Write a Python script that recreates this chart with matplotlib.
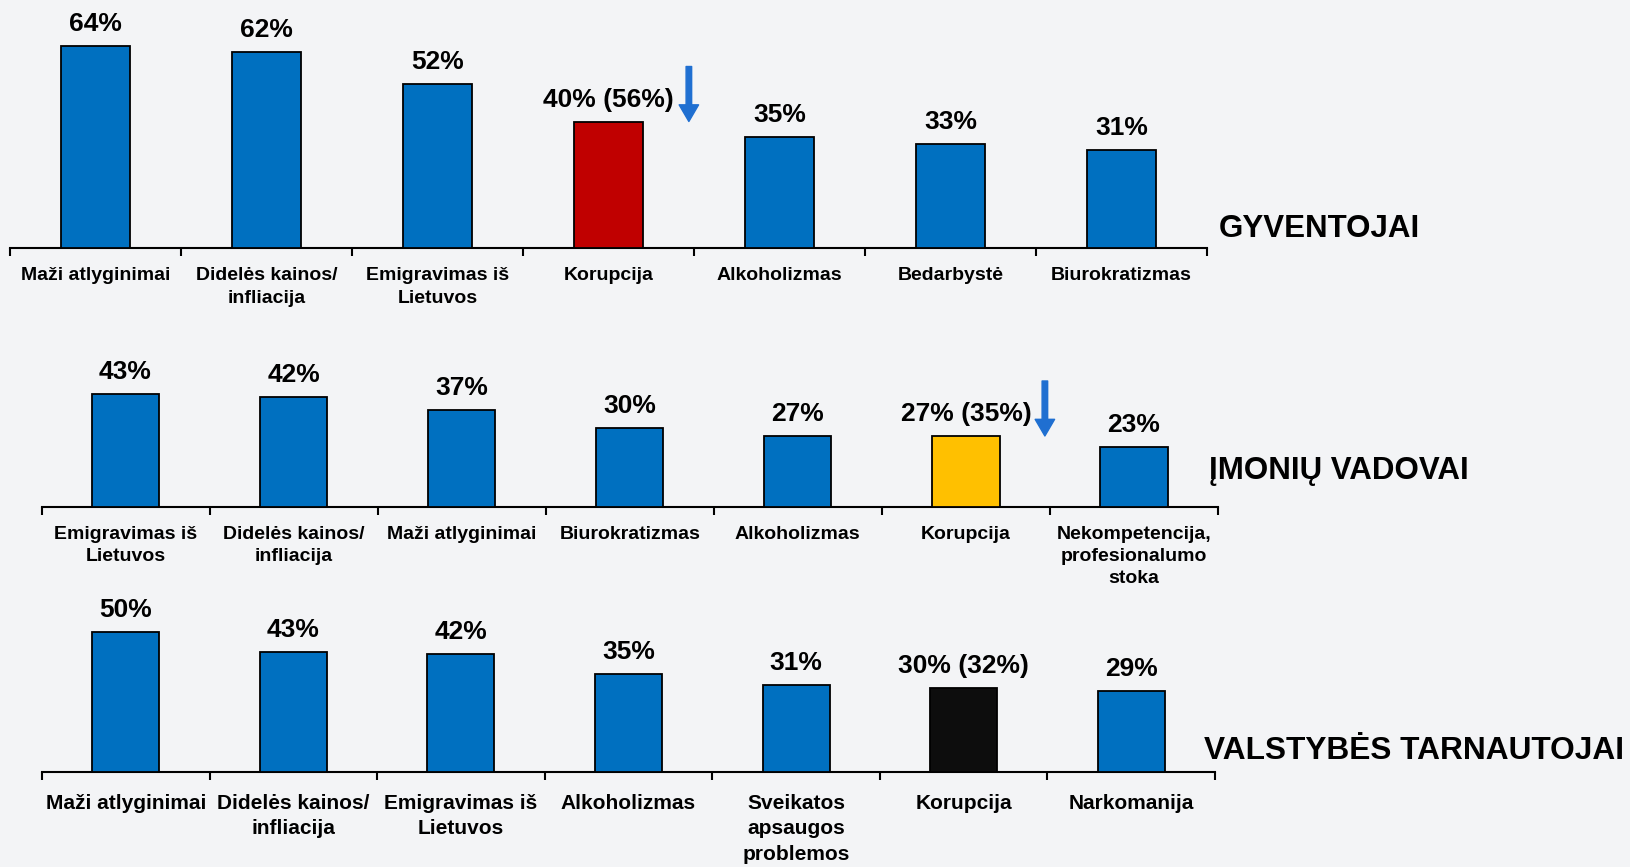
import matplotlib
matplotlib.use('Agg')
import matplotlib.pyplot as plt
from matplotlib import font_manager

names = {f.name for f in font_manager.fontManager.ttflist}
REG = 'Liberation Sans' if 'Liberation Sans' in names else 'DejaVu Sans'
plt.rcParams['font.family'] = [REG, 'DejaVu Sans']
plt.rcParams['font.weight'] = 'bold'

# --- data -------------------------------------------------------------
gyv_labels = ['Maži atlyginimai', 'Didelės kainos/\ninfliacija', 'Emigravimas iš\nLietuvos',
              'Korupcija', 'Alkoholizmas', 'Bedarbystė', 'Biurokratizmas']
gyv_values = [64, 62, 52, 40, 35, 33, 31]
gyv_prev = [None, None, None, 56, None, None, None]

vad_labels = ['Emigravimas iš\nLietuvos', 'Didelės kainos/\ninfliacija', 'Maži atlyginimai',
              'Biurokratizmas', 'Alkoholizmas', 'Korupcija',
              'Nekompetencija,\nprofesionalumo\nstoka']
vad_values = [43, 42, 37, 30, 27, 27, 23]
vad_prev = [None, None, None, None, None, 35, None]

vt_labels = ['Maži atlyginimai', 'Didelės kainos/\ninfliacija', 'Emigravimas iš\nLietuvos',
             'Alkoholizmas', 'Sveikatos\napsaugos\nproblemos', 'Korupcija', 'Narkomanija']
vt_values = [50, 43, 42, 35, 31, 30, 29]
vt_prev = [None, None, None, None, None, 32, None]

titles = ['GYVENTOJAI', 'ĮMONIŲ VADOVAI', 'VALSTYBĖS TARNAUTOJAI']

W, H = 1630, 867
BG = '#f3f4f6'
BLUE = '#0070c0'
ARROW = '#1f6fd1'

fig = plt.figure(figsize=(W / 100, H / 100), dpi=100, facecolor=BG)

# panel layout in pixels: left, right, axis y, px per %, ymax
panels = [
    dict(labels=gyv_labels, values=gyv_values, prev=gyv_prev, hi='#c00000',
         box=(10, 1207, 247.5, 3.15, 70), lab=14, val=19, pad=14, ls=1.45, arrow=True,
         title=(1219, 229, 22.5)),
    dict(labels=vad_labels, values=vad_values, prev=vad_prev, hi='#ffc000',
         box=(41.5, 1218, 507, 2.63, 50), lab=14, val=19, pad=14, ls=1.35, arrow=True,
         title=(1209, 471, 22.5)),
    dict(labels=vt_labels, values=vt_values, prev=vt_prev, hi='#0d0d0d',
         box=(42, 1215, 771.5, 2.79, 55), lab=15, val=19, pad=16, ls=1.45, arrow=False,
         title=(1204, 751, 22.8)),
]

for p, title in zip(panels, titles):
    x0, x1, ay, scale, ymax = p['box']
    ax = fig.add_axes([x0 / W, 1 - ay / H, (x1 - x0) / W, ymax * scale / H])
    ax.set_facecolor('none')
    n = len(p['values'])
    xs = list(range(n))
    colors = [p['hi'] if lab == 'Korupcija' else BLUE for lab in p['labels']]
    ax.bar(xs, p['values'], width=0.4, color=colors, edgecolor='black', linewidth=1.3, zorder=3)
    ax.set_xlim(-0.5, n - 0.5)
    ax.set_ylim(0, ymax)
    for s in ['top', 'left', 'right']:
        ax.spines[s].set_visible(False)
    ax.spines['bottom'].set_linewidth(1.5)
    ax.set_yticks([])
    ax.set_xticks(xs)
    ax.set_xticklabels(p['labels'], fontsize=p['lab'], fontweight='bold', linespacing=p['ls'])
    ax.tick_params(axis='x', which='major', length=0, pad=p['pad'])
    ax.set_xticks([i - 0.5 for i in range(n + 1)], minor=True)
    ax.tick_params(axis='x', which='minor', length=6, width=1.5, direction='out')

    for i, (v, pr) in enumerate(zip(p['values'], p['prev'])):
        txt = f'{v}%' if pr is None else f'{v}% ({pr}%)'
        ax.annotate(txt, (i, v), xytext=(0, 15), textcoords='offset pixels',
                    ha='center', va='baseline', fontsize=p['val'], fontweight='bold',
                    annotation_clip=False)
        if pr is not None and p['arrow']:
            ax.annotate('', xy=(i + 0.47, v), xytext=(0, 55), textcoords='offset pixels',
                        arrowprops=dict(arrowstyle='simple,head_length=0.6,head_width=0.7,tail_width=0.2',
                                        color=ARROW, mutation_scale=20, shrinkA=0, shrinkB=0),
                        annotation_clip=False)

    tx, ty, tsize = p['title']
    fig.text(tx / W, 1 - ty / H, title, fontsize=tsize, fontweight='bold',
             ha='left', va='center')

fig.savefig('out.png', dpi=100, facecolor=BG)
